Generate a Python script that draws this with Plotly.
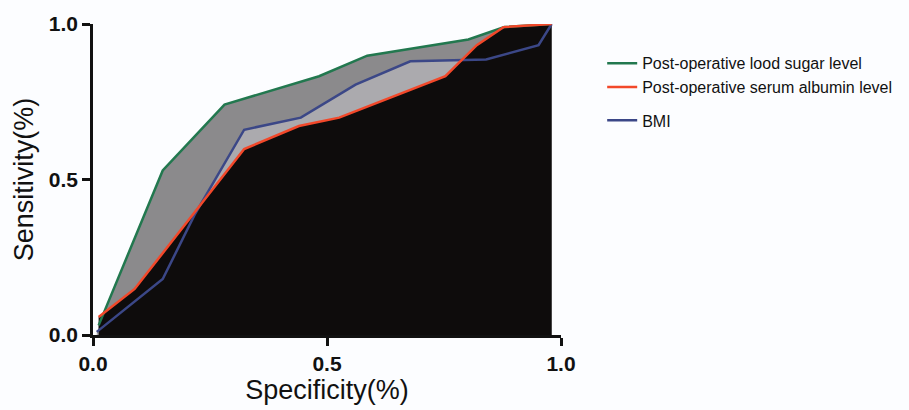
import plotly.graph_objects as go

# Series
green_name = "Post-operative lood sugar level"
green_x = [0.012, 0.149, 0.281, 0.483, 0.586, 0.802, 0.879, 0.98]
green_y = [0.031, 0.529, 0.741, 0.832, 0.898, 0.950, 0.990, 1.0]

red_name = "Post-operative serum albumin level"
red_x = [0.012, 0.089, 0.323, 0.440, 0.526, 0.753, 0.820, 0.877, 0.98]
red_y = [0.058, 0.148, 0.598, 0.672, 0.699, 0.832, 0.932, 0.990, 1.0]

blue_name = "BMI"
blue_x = [0.008, 0.149, 0.217, 0.323, 0.444, 0.561, 0.678, 0.840, 0.952, 0.98]
blue_y = [0.010, 0.180, 0.386, 0.660, 0.699, 0.805, 0.880, 0.886, 0.932, 1.0]

tick_vals = [0.0, 0.5, 1.0]
tick_text = ["0.0", "0.5", "1.0"]

GREEN = "#22784f"
RED = "#f2482a"
BLUE = "#3b4787"
FONT = "Liberation Sans, Arial, sans-serif"

fig = go.Figure()

# Area fills (drawn first, in GraphPad's stacking order)
fig.add_trace(go.Scatter(x=green_x, y=green_y, mode="lines", fill="tozeroy",
                         fillcolor="#8b8a8c", line=dict(width=0), showlegend=False,
                         hoverinfo="skip"))
fig.add_trace(go.Scatter(x=blue_x, y=blue_y, mode="lines", fill="tozeroy",
                         fillcolor="#abaaae", line=dict(width=0), showlegend=False,
                         hoverinfo="skip"))
fig.add_trace(go.Scatter(x=red_x, y=red_y, mode="lines", fill="tozeroy",
                         fillcolor="#0e0c0c", line=dict(width=0), showlegend=False,
                         hoverinfo="skip"))

# Lines
fig.add_trace(go.Scatter(x=green_x, y=green_y, mode="lines", name=green_name,
                         line=dict(color=GREEN, width=2.5), legend="legend"))
fig.add_trace(go.Scatter(x=blue_x, y=blue_y, mode="lines", name=blue_name,
                         line=dict(color=BLUE, width=2.5), legend="legend2"))
fig.add_trace(go.Scatter(x=red_x, y=red_y, mode="lines", name=red_name,
                         line=dict(color=RED, width=2.5), legend="legend"))

axis_common = dict(
    range=[0, 1], tickmode="array", tickvals=tick_vals, ticktext=tick_text,
    showgrid=False, zeroline=False, showline=True, linecolor="#111111", linewidth=2.5,
    ticks="outside", ticklen=8, tickwidth=2.5, tickcolor="#111111",
    tickfont=dict(family=FONT, size=21, color="#111111", weight="bold"),
)

fig.update_layout(
    width=909, height=410, autosize=False,
    margin=dict(l=93, r=346, t=22, b=74),
    paper_bgcolor="#fcfdff", plot_bgcolor="#fcfdff",
    xaxis=dict(**axis_common,
               title=dict(text="Specificity(%)", standoff=4,
                          font=dict(family=FONT, size=27, color="#111111"))),
    yaxis=dict(**axis_common,
               title=dict(text="Sensitivity(%)", standoff=8,
                          font=dict(family=FONT, size=27, color="#111111"))),
    legend=dict(x=1.088, y=0.835, xanchor="left", yanchor="middle",
                bgcolor="rgba(0,0,0,0)", font=dict(family=FONT, size=16, color="#111111"),
                traceorder="normal", itemwidth=30),
    legend2=dict(x=1.088, y=0.69, xanchor="left", yanchor="middle",
                 bgcolor="rgba(0,0,0,0)", font=dict(family=FONT, size=16, color="#111111"),
                 itemwidth=30),
    showlegend=True,
)

fig.write_html("out.html", config={"displayModeBar": False},
               post_script="document.body.style.margin='0px';")
